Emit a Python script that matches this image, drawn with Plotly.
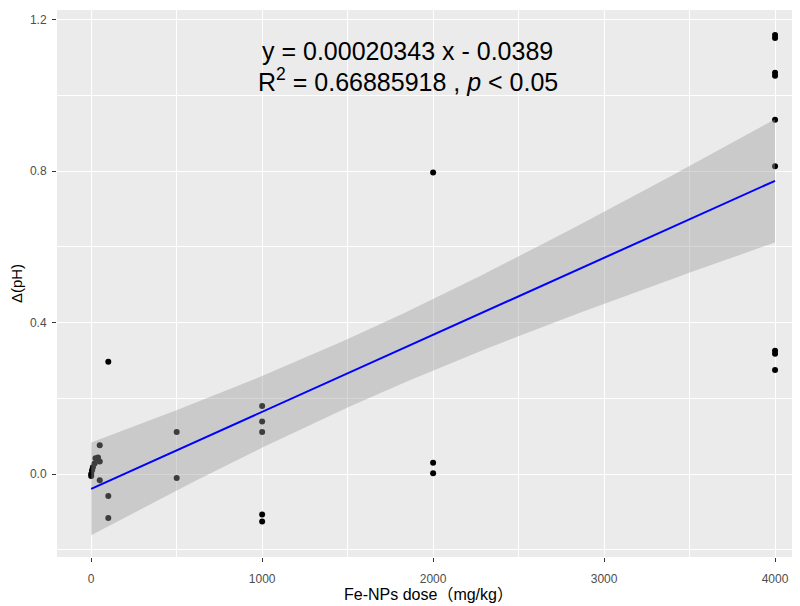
import numpy as np
import plotly.graph_objects as go

# ---- data ----
dose = [0, 0, 5, 10, 20, 25, 40, 50, 50, 50,
        100, 100, 100,
        500, 500,
        1000, 1000, 1000, 1000, 1000,
        2000, 2000, 2000,
        4000, 4000, 4000, 4000, 4000, 4000, 4000, 4000, 4000]
delta_ph = [-0.005, 0.0, 0.010, 0.018, 0.028, 0.042, 0.044, 0.033, 0.076, -0.016,
            0.297, -0.058, -0.116,
            0.111, -0.010,
            0.180, 0.139, 0.111, -0.107, -0.125,
            0.797, 0.030, 0.002,
            1.160, 1.152, 1.060, 1.052, 0.936, 0.813, 0.326, 0.318, 0.275]

SLOPE = 0.00020343
INTERCEPT = -0.0389
R2_TEXT = "0.66885918"
T_CRIT = 2.04  # ~97.5% t quantile, df = n - 2

x_ticks = [0, 1000, 2000, 3000, 4000]
y_ticks = [0.0, 0.4, 0.8, 1.2]
y_tick_labels = ["0.0", "0.4", "0.8", "1.2"]

# ---- linear fit and its 95% confidence band ----
xa = np.array(dose, float)
ya = np.array(delta_ph, float)
n = len(xa)
resid = ya - (SLOPE * xa + INTERCEPT)
s = np.sqrt(np.sum(resid ** 2) / (n - 2))
xbar = xa.mean()
sxx = np.sum((xa - xbar) ** 2)
xg = np.linspace(xa.min(), xa.max(), 80)
yfit = SLOPE * xg + INTERCEPT
hw = T_CRIT * s * np.sqrt(1 / n + (xg - xbar) ** 2 / sxx)

fig = go.Figure()
fig.add_trace(go.Scatter(x=dose, y=delta_ph, mode="markers",
                         marker=dict(color="black", size=6),
                         showlegend=False, hoverinfo="skip"))
fig.add_trace(go.Scatter(x=xg, y=yfit - hw, mode="lines", line=dict(width=0),
                         showlegend=False, hoverinfo="skip"))
fig.add_trace(go.Scatter(x=xg, y=yfit + hw, mode="lines", line=dict(width=0),
                         fill="tonexty", fillcolor="rgba(153,153,153,0.4)",
                         showlegend=False, hoverinfo="skip"))
fig.add_trace(go.Scatter(x=xg, y=yfit, mode="lines",
                         line=dict(color="#0000FF", width=2),
                         showlegend=False, hoverinfo="skip"))

font_family = "Liberation Sans, Arial, Noto Sans CJK SC, sans-serif"
fig.add_annotation(x=1851, y=1.119, xref="x", yref="y", showarrow=False,
                   text=f"y = {SLOPE:.8f} x - {abs(INTERCEPT):.4f}",
                   font=dict(size=25, color="black", family=font_family))
fig.add_annotation(x=1851, y=1.040, xref="x", yref="y", showarrow=False,
                   text=f"R<sup>2</sup> = {R2_TEXT} , <i>p</i> &lt; 0.05",
                   font=dict(size=25, color="black", family=font_family))

axis_common = dict(
    showgrid=True, gridcolor="white", gridwidth=1.1,
    zeroline=False, showline=False, automargin=False,
    ticks="outside", ticklen=4, tickwidth=1, tickcolor="#333333",
    tickfont=dict(size=12, color="#4D4D4D", family=font_family),
)
fig.update_xaxes(range=[-200, 4146], tickvals=x_ticks,
                 ticktext=[str(v) for v in x_ticks],
                 ticklabelstandoff=7,
                 minor=dict(tickvals=[500, 1500, 2500, 3500], showgrid=True,
                            gridcolor="white", gridwidth=0.6),
                 title=dict(text="Fe-NPs dose（mg/kg）", standoff=3,
                            font=dict(size=16, color="black", family=font_family)),
                 **axis_common)
fig.update_yaxes(range=[-0.219, 1.226], tickvals=y_ticks, ticktext=y_tick_labels,
                 ticklabelstandoff=3,
                 minor=dict(tickvals=[-0.2, 0.2, 0.6, 1.0], showgrid=True,
                            gridcolor="white", gridwidth=0.6),
                 title=dict(text="Δ(pH)", standoff=5,
                            font=dict(size=15, color="black", family=font_family)),
                 **axis_common)

# the page body adds an 8px offset; margins compensate so the panel lands
# where the reference's panel is
fig.update_layout(
    width=800, height=606,
    margin=dict(l=49, r=8, t=2, b=57),
    paper_bgcolor="white", plot_bgcolor="#EBEBEB",
    font=dict(family=font_family),
)

fig.write_html("out.html")
